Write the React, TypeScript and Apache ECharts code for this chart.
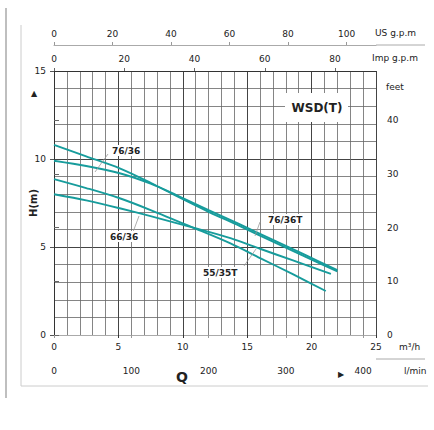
import React, { useEffect, useRef } from "react";
import * as echarts from "echarts";

// Flow Q in m³/h, head H in m
const curve7636: [number, number][] = [[0, 10.8], [2.5, 10.15], [5.1, 9.47], [7.5, 8.65], [9.5, 7.9], [12, 7.0], [14.4, 6.2], [17, 5.3], [19.5, 4.45], [22, 3.62]];
const curve7636T: [number, number][] = [[0, 9.9], [2.5, 9.6], [5.1, 9.19], [7.5, 8.6], [9.5, 7.95], [12, 7.1], [14.4, 6.3], [17, 5.4], [19.5, 4.55], [22, 3.68]];
const curve6636: [number, number][] = [[0, 8.86], [2.5, 8.35], [5.1, 7.77], [7.5, 7.1], [10.8, 6.1], [13.7, 5.2], [16, 4.37], [18.5, 3.47], [21.1, 2.5]];
const curve5535T: [number, number][] = [[0, 8.0], [2.5, 7.65], [5.1, 7.2], [7.5, 6.75], [10.8, 6.1], [13.7, 5.5], [16, 4.9], [18.5, 4.25], [21.5, 3.47]];

const seriesNames = ["76/36", "76/36T", "66/36", "55/35T"];
const qTicksM3h = [0, 5, 10, 15, 20, 25];
const qTicksLmin = [0, 100, 200, 300, 400];
const qTicksImp = [0, 20, 40, 60, 80];
const qTicksUS = [0, 20, 40, 60, 80, 100];
const hTicksM = [0, 5, 10, 15];
const hTicksFeet = [0, 10, 20, 30, 40];

const Q_MAX = 25;
const H_MAX = 15;
const LMIN_MAX = (Q_MAX * 1000) / 60;
const IMP_MAX = Q_MAX / 0.272765;
const US_MAX = Q_MAX / 0.227125;
const FEET_MAX = H_MAX / 0.3048;

const FONT = "DejaVu Sans, Verdana, sans-serif";
const TEAL = "#179c9c";

export default function App() {
  const ref = useRef<HTMLDivElement>(null);
  useEffect(() => {
    if (!ref.current) return;
    const chart = echarts.init(ref.current, undefined, { renderer: "svg" });
    const lbl = { fontSize: 9, color: "#222", fontFamily: FONT };
    const curves = [curve7636, curve7636T, curve6636, curve5535T];
    const labelText = (text: string, x: number, y: number) => ({
      type: "text",
      left: x,
      top: y - 6,
      z: 20,
      style: {
        text,
        fontSize: 9,
        fontWeight: "bold",
        fill: "#222",
        fontFamily: FONT,
        backgroundColor: "#fff",
        padding: [1, 1],
      },
    });
    const seg = (x1: number, y1: number, x2: number, y2: number, color = "#999", w = 0.8) => ({
      type: "line",
      z: 19,
      shape: { x1, y1, x2, y2 },
      style: { stroke: color, lineWidth: w },
    });
    const unit = (text: string, x: number, y: number) => ({
      type: "text", z: 20, x, y,
      style: { text, fontSize: 9, fill: "#222", fontFamily: FONT, verticalAlign: "middle" },
    });
    chart.setOption({
      animation: false,
      backgroundColor: "#fff",
      grid: { left: 54, top: 71, width: 322, height: 264, containLabel: false },
      xAxis: [
        {
          type: "value", position: "bottom", min: 0, max: Q_MAX, interval: 5,
          axisLine: { show: true, lineStyle: { color: "#333", width: 1 } },
          axisTick: { show: true, length: 3, lineStyle: { color: "#333" } },
          axisLabel: { ...lbl, margin: 7, customValues: qTicksM3h },
          splitLine: { show: true, lineStyle: { color: "#444", width: 1 } },
          minorTick: { show: false, splitNumber: 5 },
          minorSplitLine: { show: true, lineStyle: { color: "#666", width: 0.8 } },
        },
        {
          type: "value", position: "bottom", offset: 24, min: 0, max: LMIN_MAX,
          axisLine: { show: true, lineStyle: { color: "#aaa", width: 1 } },
          axisTick: { show: true, length: 3, customValues: qTicksLmin, lineStyle: { color: "#999" } },
          axisLabel: { ...lbl, margin: 7, customValues: qTicksLmin },
          splitLine: { show: false },
        },
        {
          type: "value", position: "top", offset: 0, min: 0, max: IMP_MAX,
          axisLine: { show: true, lineStyle: { color: "#333", width: 1 } },
          axisTick: { show: true, length: 3, customValues: qTicksImp, lineStyle: { color: "#666" } },
          axisLabel: { ...lbl, margin: 8, customValues: qTicksImp },
          splitLine: { show: false },
        },
        {
          type: "value", position: "top", offset: 26, min: 0, max: US_MAX,
          axisLine: { show: true, lineStyle: { color: "#aaa", width: 1 } },
          axisTick: { show: true, length: 3, customValues: qTicksUS, lineStyle: { color: "#999" } },
          axisLabel: { ...lbl, margin: 7, customValues: qTicksUS },
          splitLine: { show: false },
        },
      ],
      yAxis: [
        {
          type: "value", position: "left", min: 0, max: H_MAX, interval: 5,
          name: "H(m)", nameLocation: "middle", nameGap: 16, nameRotate: 90,
          nameMoveOverlap: false,
          nameTextStyle: { fontSize: 10, fontWeight: "bold", color: "#222", fontFamily: FONT },
          axisLine: { show: true, lineStyle: { color: "#333", width: 1 } },
          axisTick: { show: true, length: 4, lineStyle: { color: "#555" } },
          axisLabel: { ...lbl, margin: 8, customValues: hTicksM },
          splitLine: { show: true, lineStyle: { color: "#444", width: 1 } },
          minorTick: { show: false, splitNumber: 5 },
          minorSplitLine: { show: true, lineStyle: { color: "#666", width: 0.8 } },
        },
        {
          type: "value", position: "right", min: 0, max: FEET_MAX,
          axisLine: { show: true, lineStyle: { color: "#333", width: 1 } },
          axisTick: { show: true, length: 5, customValues: hTicksFeet, lineStyle: { color: "#666" } },
          axisLabel: { ...lbl, margin: 11, customValues: hTicksFeet },
          splitLine: { show: false },
        },
      ],
      series: curves.map((data, i) => ({
        name: seriesNames[i],
        type: "line",
        xAxisIndex: 0,
        yAxisIndex: 0,
        data,
        smooth: 0.3,
        showSymbol: false,
        symbol: "none",
        lineStyle: { color: TEAL, width: 1.9 },
        z: 5,
      })),
      graphic: [
        // frame lines
        seg(6, 8, 6, 398, "#aaa", 1.5),
        seg(21, 25, 21, 386, "#ccc", 1),
        seg(21, 386, 428, 386, "#ccc", 1),
        // axis line extensions
        seg(376, 45, 425, 45, "#aaa", 1),
        seg(376, 359, 425, 359, "#aaa", 1),
        // title box
        { type: "rect", z: 18, shape: { x: 285, y: 93, width: 63, height: 29 }, style: { fill: "#fff" } },
        {
          type: "text", z: 20, x: 317, y: 108,
          style: { text: "WSD(T)", fontSize: 12, fontWeight: "bold", fill: "#222", fontFamily: FONT, align: "center", verticalAlign: "middle" },
        },
        // leader lines
        seg(95, 172, 108, 154),
        seg(133, 232, 139, 216),
        seg(260, 222, 255, 236),
        seg(244, 266, 256, 249),
        // curve labels
        labelText("76/36", 111, 151),
        labelText("66/36", 109, 237),
        labelText("76/36T", 267, 220),
        labelText("55/35T", 202, 273),
        // unit names
        unit("US g.p.m", 375, 33),
        unit("Imp g.p.m", 372, 58),
        unit("feet", 386, 87),
        unit("m³/h", 399, 347),
        unit("l/min", 404, 371),
        { type: "text", z: 20, x: 182, y: 377, style: { text: "Q", fontSize: 14, fontWeight: "bold", fill: "#222", fontFamily: FONT, align: "center", verticalAlign: "middle" } },
        { type: "text", z: 20, x: 341, y: 374, style: { text: "▶", fontSize: 8, fill: "#222", fontFamily: FONT, align: "center", verticalAlign: "middle" } },
        { type: "text", z: 20, x: 34, y: 93, style: { text: "▲", fontSize: 8, fill: "#222", fontFamily: FONT, align: "center", verticalAlign: "middle" } },
      ],
    });
    return () => chart.dispose();
  }, []);
  return (
    <div
      ref={ref}
      style={{ position: "fixed", left: 0, top: 0, width: 434, height: 430, background: "#fff" }}
    />
  );
}
